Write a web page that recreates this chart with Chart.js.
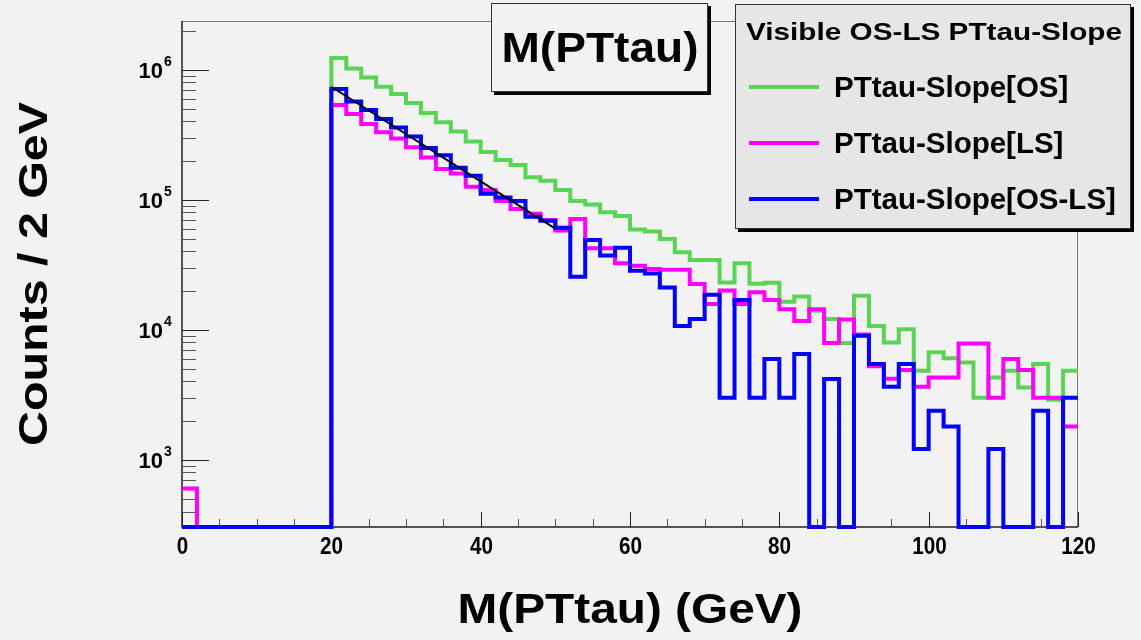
<!DOCTYPE html>
<html>
<head>
<meta charset="utf-8">
<script src="https://cdn.jsdelivr.net/npm/chart.js@4.4.1/dist/chart.umd.min.js"></script>
<style>
    html, body { margin: 0; padding: 0; background: #f2f2f2; }
    #wrap { width: 1141px; height: 640px; }
</style>
</head>
<body>
<div id="wrap"><canvas id="chart-hist"></canvas></div>
<script>
// binning / axis range
const binWidth = 2;
const xMin = 0, xMax = 120;
const yMin = 304, yMax = 2.37e6;
const xMajorStep = 20, xMinorStep = 5;

// counts per 2 GeV bin, 60 bins from 0 to 120 GeV
const countsOS = [
    0, 0, 0, 0, 0, 0, 0, 0, 0, 0,
    1.23e6, 1.02e6, 8.7e5, 7.4e5, 6.5e5, 5.55e5, 4.64e5, 3.94e5, 3.35e5, 2.8e5,
    2.33e5, 2.02e5, 1.85e5, 1.49e5, 1.4e5, 1.19e5, 9.8e4, 9.2e4, 8.0e4, 7.5e4,
    5.9e4, 5.7e4, 5.0e4, 3.95e4, 3.44e4, 3.44e4, 2.31e4, 3.24e4, 2.26e4, 2.3e4,
    1.64e4, 1.8e4, 1.4e4, 1.21e4, 7.9e3, 1.83e4, 1.07e4, 7.98e3, 1.01e4, 4.84e3,
    6.7e3, 6.05e3, 5.6e3, 3.0e3, 4.3e3, 4.84e3, 3.6e3, 5.45e3, 2.9e3, 4.84e3
];
const countsLS = [
    600, 0, 0, 0, 0, 0, 0, 0, 0, 0,
    5.35e5, 4.56e5, 3.82e5, 3.3e5, 2.96e5, 2.53e5, 2.11e5, 1.72e5, 1.59e5, 1.26e5,
    1.19e5, 9.8e4, 8.5e4, 7.8e4, 7.0e4, 5.8e4, 7.1e4, 4.24e4, 4.24e4, 3.24e4,
    3.1e4, 2.93e4, 2.9e4, 2.9e4, 2.25e4, 1.58e4, 2.0e4, 1.58e4, 1.94e4, 1.69e4,
    1.44e4, 1.17e4, 1.44e4, 7.9e3, 1.2e4, 9.2e3, 5.25e3, 4.2e3, 4.9e3, 3.65e3,
    4.3e3, 4.3e3, 7.85e3, 7.85e3, 3.0e3, 5.95e3, 4.9e3, 3.0e3, 3.0e3, 1.8e3
];
const countsOSLS = [
    0, 0, 0, 0, 0, 0, 0, 0, 0, 0,
    7.1e5, 5.7e5, 4.9e5, 4.17e5, 3.6e5, 3.07e5, 2.5e5, 2.2e5, 1.76e5, 1.53e5,
    1.11e5, 1.04e5, 9.8e4, 7.4e4, 6.9e4, 6.1e4, 2.56e4, 4.9e4, 3.72e4, 4.27e4,
    2.84e4, 2.71e4, 2.11e4, 1.07e4, 1.21e4, 1.86e4, 3.0e3, 1.69e4, 3.0e3, 5.95e3,
    3.0e3, 6.5e3, 0, 4.18e3, 0, 9.0e3, 5.45e3, 3.65e3, 5.45e3, 1.21e3,
    2.38e3, 1.8e3, 0, 0, 1.21e3, 0, 0, 2.38e3, 0, 3.0e3
];

// exponential fit on OS-LS (end points)
const fitX = [20, 50];
const fitY = [7.4e5, 6.0e4];

// texts
const seriesLabels = ["PTtau-Slope[OS]", "PTtau-Slope[LS]", "PTtau-Slope[OS-LS]"];
const seriesColors = ["#59d454", "#ff00ff", "#0000ff"];
const legendHeader = "Visible OS-LS PTtau-Slope";
const titleText = "M(PTtau)";
const xTitle = "M(PTtau) (GeV)";
const yTitle = "Counts / 2 GeV";

const FONT = '"Liberation Sans", Arial, sans-serif';

// histogram -> step points (left bin edges + closing point)
function toSteps(counts) {
    const pts = counts.map((c, i) => ({ x: xMin + i * binWidth, y: c > 0 ? c : yMin }));
    pts.push({ x: xMax, y: pts[pts.length - 1].y });
    return pts;
}

function histDataset(label, counts, color, order) {
    return {
        label: label,
        data: toSteps(counts),
        borderColor: color,
        backgroundColor: color,
        borderWidth: 4,
        stepped: 'before',
        pointRadius: 0,
        fill: false,
        clip: { left: 2, right: 2, top: 2, bottom: 3 },
        order: order
    };
}

const fitDataset = {
    label: 'fit',
    data: fitX.map((x, i) => ({ x: x, y: fitY[i] })),
    borderColor: '#000000',
    borderWidth: 2,
    pointRadius: 0,
    fill: false,
    order: 0
};

// text drawn bold, optionally stretched to a given width
function drawText(ctx, text, x, y, size, width, align, baseline) {
    ctx.save();
    ctx.font = 'bold ' + size + 'px ' + FONT;
    ctx.textAlign = align || 'left';
    ctx.textBaseline = baseline || 'alphabetic';
    const w = ctx.measureText(text).width;
    ctx.translate(x, y);
    if (width) ctx.scale(width / w, 1);
    ctx.fillStyle = '#000';
    ctx.fillText(text, 0, 0);
    ctx.restore();
}

function drawPave(ctx, x, y, w, h, fill) {
    ctx.save();
    ctx.fillStyle = '#000';
    ctx.fillRect(x + 3, y + 3, w, h);
    ctx.fillStyle = fill;
    ctx.fillRect(x, y, w, h);
    ctx.strokeStyle = '#333';
    ctx.lineWidth = 1;
    ctx.strokeRect(x + 0.5, y + 0.5, w - 1, h - 1);
    ctx.restore();
}

const rootStyle = {
    id: 'rootStyle',
    beforeDraw(chart) {
        const ctx = chart.ctx;
        ctx.save();
        ctx.fillStyle = '#f2f2f2';
        ctx.fillRect(0, 0, chart.width, chart.height);
        ctx.restore();
    },
    // frame, axes and ticks sit under the histograms, as in ROOT
    beforeDatasetsDraw(chart) {
        const { ctx, chartArea: a } = chart;
        const xs = chart.scales.x, ys = chart.scales.y;

        ctx.save();
        ctx.strokeStyle = '#777';
        ctx.lineWidth = 1;
        ctx.beginPath();
        ctx.moveTo(a.left, a.top + 0.5);
        ctx.lineTo(a.right - 0.5, a.top + 0.5);
        ctx.lineTo(a.right - 0.5, a.bottom);
        ctx.stroke();
        ctx.strokeStyle = '#222';
        ctx.lineWidth = 1.5;
        ctx.beginPath();
        ctx.moveTo(a.left, a.top);
        ctx.lineTo(a.left, a.bottom);
        ctx.lineTo(a.right, a.bottom);
        ctx.stroke();

        // y ticks (log)
        ctx.lineWidth = 1;
        const d0 = Math.floor(Math.log10(yMin)), d1 = Math.ceil(Math.log10(yMax));
        for (let d = d0; d <= d1; d++) {
            for (let k = 1; k <= 9; k++) {
                const v = k * Math.pow(10, d);
                if (v < yMin || v > yMax) continue;
                const py = Math.round(ys.getPixelForValue(v)) + 0.5;
                ctx.strokeStyle = k === 1 ? '#222' : '#555';
                ctx.beginPath();
                ctx.moveTo(a.left, py);
                ctx.lineTo(a.left + (k === 1 ? 27 : 14), py);
                ctx.stroke();
                if (k === 1) {
                    drawText(ctx, '10', a.left - 19, py + 1, 22, null, 'right', 'middle');
                    drawText(ctx, String(d), a.left - 18, py - 8, 14, null, 'left', 'middle');
                }
            }
        }

        // x ticks
        for (let v = xMin; v <= xMax; v += xMinorStep) {
            const px = Math.round(xs.getPixelForValue(v)) + 0.5;
            const major = v % xMajorStep === 0;
            ctx.strokeStyle = major ? '#222' : '#555';
            ctx.beginPath();
            ctx.moveTo(px, a.bottom);
            ctx.lineTo(px, a.bottom - (major ? 15 : 8));
            ctx.stroke();
            if (major) {
                const label = String(v);
                drawText(ctx, label, px, 554, 24, label.length * 11.5, 'center');
            }
        }
        ctx.restore();

        // axis titles
        drawText(ctx, xTitle, (a.left + a.right) / 2, 623, 43, 345, 'center');
        ctx.save();
        ctx.translate(47, (a.top + a.bottom) / 2);
        ctx.rotate(-Math.PI / 2);
        drawText(ctx, yTitle, 0, 0, 40, 344, 'center');
        ctx.restore();
    },
    afterDraw(chart) {
        const ctx = chart.ctx;

        // title pave
        drawPave(ctx, 491, 3, 217, 89, '#f2f2f2');
        drawText(ctx, titleText, 600, 62, 42, 197, 'center');

        // legend pave
        drawPave(ctx, 735, 4, 396, 225, '#e6e6e6');
        drawText(ctx, legendHeader, 934, 40, 24, 376, 'center');
        const sets = chart.data.datasets.filter(ds => seriesLabels.includes(ds.label));
        sets.forEach((ds, i) => {
            const ly = 87 + i * 56;
            ctx.save();
            ctx.strokeStyle = ds.borderColor;
            ctx.lineWidth = 4;
            ctx.beginPath();
            ctx.moveTo(749, ly);
            ctx.lineTo(819, ly);
            ctx.stroke();
            ctx.restore();
            drawText(ctx, ds.label, 834, ly + 10, 29.5, null, 'left');
        });
    }
};

const histChart = new Chart(document.getElementById('chart-hist'), {
    type: 'line',
    data: {
        datasets: [
            histDataset(seriesLabels[0], countsOS, seriesColors[0], 3),
            histDataset(seriesLabels[1], countsLS, seriesColors[1], 2),
            histDataset(seriesLabels[2], countsOSLS, seriesColors[2], 1),
            fitDataset
        ]
    },
    plugins: [rootStyle],
    options: {
        responsive: true,
        maintainAspectRatio: false,
        animation: false,
        events: [],
        layout: {
            padding: { left: 182, top: 21, right: 63, bottom: 113 }
        },
        scales: {
            x: { type: 'linear', display: false, min: xMin, max: xMax },
            y: { type: 'logarithmic', display: false, min: yMin, max: yMax }
        },
        plugins: {
            legend: { display: false },
            tooltip: { enabled: false }
        }
    }
});
</script>
</body>
</html>
